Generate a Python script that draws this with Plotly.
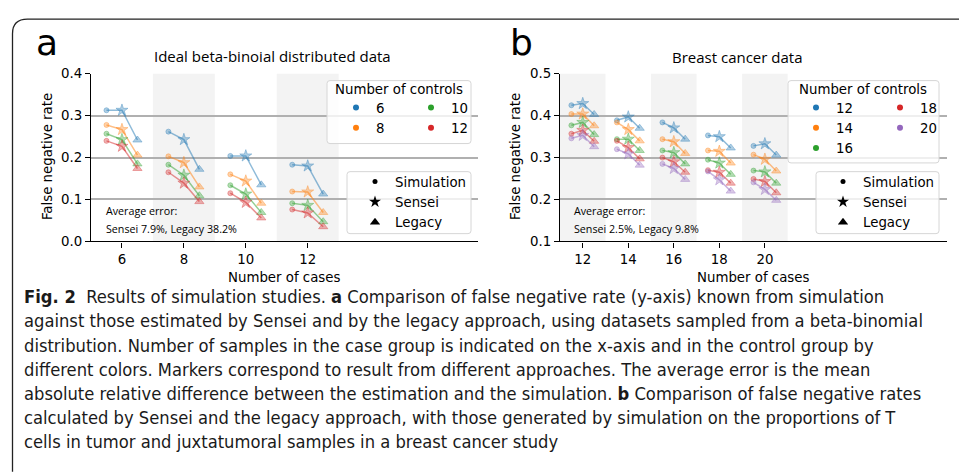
import plotly.graph_objects as go

# ---------------- data ----------------
a_cases = [6, 8, 10, 12]
a_controls = [6, 8, 10, 12]
# rows: number of controls, columns: number of cases
a_sim = [
    [0.313, 0.262, 0.204, 0.183],
    [0.278, 0.203, 0.160, 0.119],
    [0.257, 0.183, 0.134, 0.091],
    [0.240, 0.165, 0.115, 0.076],
]
a_sensei = [
    [0.313, 0.243, 0.204, 0.180],
    [0.267, 0.188, 0.144, 0.118],
    [0.243, 0.158, 0.113, 0.086],
    [0.227, 0.139, 0.093, 0.068],
]
a_legacy = [
    [0.242, 0.172, 0.135, 0.113],
    [0.206, 0.130, 0.091, 0.069],
    [0.185, 0.109, 0.069, 0.047],
    [0.174, 0.095, 0.056, 0.035],
]

b_cases = [12, 14, 16, 18, 20]
b_controls = [12, 14, 16, 18, 20]
b_sim = [
    [0.425, 0.389, 0.384, 0.353, 0.328],
    [0.404, 0.384, 0.344, 0.317, 0.307],
    [0.377, 0.344, 0.317, 0.295, 0.269],
    [0.357, 0.340, 0.300, 0.270, 0.249],
    [0.346, 0.320, 0.285, 0.267, 0.241],
]
b_sensei = [
    [0.429, 0.397, 0.371, 0.350, 0.333],
    [0.404, 0.367, 0.338, 0.315, 0.296],
    [0.384, 0.344, 0.312, 0.287, 0.266],
    [0.365, 0.324, 0.290, 0.265, 0.243],
    [0.353, 0.309, 0.274, 0.247, 0.224],
]
b_legacy = [
    [0.403, 0.370, 0.344, 0.323, 0.306],
    [0.376, 0.340, 0.310, 0.287, 0.268],
    [0.355, 0.317, 0.285, 0.260, 0.239],
    [0.339, 0.297, 0.265, 0.239, 0.216],
    [0.326, 0.282, 0.248, 0.220, 0.198],
]

methods = ["Simulation", "Sensei", "Legacy"]
method_offset = [-0.5, 0.0, 0.5]
method_symbol = ["circle", "star", "triangle-up"]
method_size = [5, 9, 8]
colors = ["#1f77b4", "#ff7f0e", "#2ca02c", "#d62728", "#9467bd"]

caption_lines = [
    "<b>Fig. 2</b>\u00a0 Results of simulation studies. <b>a</b> Comparison of false negative rate (y-axis) known from simulation",
    "against those estimated by Sensei and by the legacy approach, using datasets sampled from a beta-binomial",
    "distribution. Number of samples in the case group is indicated on the x-axis and in the control group by",
    "different colors. Markers correspond to result from different approaches. The average error is the mean",
    "absolute relative difference between the estimation and the simulation. <b>b</b> Comparison of false negative rates",
    "calculated by Sensei and the legacy approach, with those generated by simulation on the proportions of T",
    "cells in tumor and juxtatumoral samples in a breast cancer study",
]

W, H = 959, 476


def px(x):
    return x / W


def py(y):
    return 1 - y / H


def rgba(hexc, a):
    h = hexc.lstrip("#")
    r, g, b = int(h[0:2], 16), int(h[2:4], 16), int(h[4:6], 16)
    return f"rgba({r},{g},{b},{a})"


def rounded_rect(x0, y0, x1, y1, r=3):
    rx, ry = r / W, r / H
    X0, X1 = px(x0), px(x1)
    Y0, Y1 = py(y0), py(y1)  # Y0 top, Y1 bottom
    return (f"M {X0+rx},{Y0} L {X1-rx},{Y0} Q {X1},{Y0} {X1},{Y0-ry} "
            f"L {X1},{Y1+ry} Q {X1},{Y1} {X1-rx},{Y1} L {X0+rx},{Y1} "
            f"Q {X0},{Y1} {X0},{Y1+ry} L {X0},{Y0-ry} Q {X0},{Y0} {X0+rx},{Y0} Z")


fig = go.Figure()

TICKFONT = dict(family="DejaVu Sans", size=13.33, color="black")
SEGOE = "Open Sans"


def add_panel(cases, controls, sim, sensei, legacy, xa, ya, leg_cols, leg_mark, ncol_rows):
    vals = [sim, sensei, legacy]
    for ci, ctrl in enumerate(controls):
        c = colors[ci]
        xs, ys, syms, sizes = [], [], [], []
        for ki, case in enumerate(cases):
            for mi in range(3):
                xs.append(case + method_offset[mi])
                ys.append(vals[mi][ci][ki])
                syms.append(method_symbol[mi])
                sizes.append(method_size[mi])
            xs.append(None)
            ys.append(None)
            syms.append("circle")
            sizes.append(1)
        fig.add_trace(go.Scatter(
            x=xs, y=ys, xaxis=xa, yaxis=ya, mode="lines+markers",
            line=dict(color=rgba(c, 0.5), width=1.5),
            marker=dict(symbol=syms, size=sizes, color=rgba(c, 0.5),
                        line=dict(color=rgba(c, 0.55), width=1)),
            showlegend=False, hoverinfo="skip", connectgaps=False,
        ))
    # legend entries for colours (column-major, split into legend columns)
    for ci, ctrl in enumerate(controls):
        col = ci // ncol_rows
        fig.add_trace(go.Scatter(
            x=[None], y=[None], xaxis=xa, yaxis=ya, mode="markers",
            marker=dict(color=colors[ci], size=6),
            name=str(ctrl), legend=leg_cols[col], showlegend=True,
        ))
    for mi, m in enumerate(methods):
        fig.add_trace(go.Scatter(
            x=[None], y=[None], xaxis=xa, yaxis=ya, mode="markers",
            marker=dict(color="black", symbol=method_symbol[mi],
                        size=[5, 9, 9][mi]),
            name=m, legend=leg_mark, showlegend=True,
        ))


add_panel(a_cases, a_controls, a_sim, a_sensei, a_legacy, "x", "y",
          ["legend", "legend2"], "legend3", 2)
add_panel(b_cases, b_controls, b_sim, b_sensei, b_legacy, "x2", "y2",
          ["legend4", "legend5"], "legend6", 3)

shapes = []
# shaded bands behind alternating case groups
for xr, cases, start in (("x", a_cases, 1), ("x2", b_cases, 0)):
    for ki in range(start, len(cases), 2):
        shapes.append(dict(type="rect", xref=xr, yref=("y domain" if xr == "x" else "y2 domain"),
                           x0=cases[ki] - 1, x1=cases[ki] + 1, y0=0, y1=1,
                           fillcolor="#f3f3f3", line=dict(width=0), layer="below"))

# legend boxes
for (x0, y0, x1, y1) in [(327, 76, 471, 141), (347, 170, 471, 234),
                         (788, 76, 939, 161), (816, 170, 939, 234)]:
    shapes.append(dict(type="path", xref="paper", yref="paper",
                       path=rounded_rect(x0, y0, x1, y1, 3),
                       fillcolor="rgba(255,255,255,0.8)",
                       line=dict(color="#d6d6d6", width=1), layer="above"))

# outer frame with rounded top-left corner
r = 15
shapes.append(dict(type="path", xref="paper", yref="paper",
                   path=(f"M {px(12.5)},{py(480)} L {px(12.5)},{py(12.5 + r)} "
                         f"Q {px(12.5)},{py(12.5)} {px(12.5 + r)},{py(12.5)} L {px(965)},{py(12.5)}"),
                   line=dict(color="#222222", width=1.3)))

ann = []


def text(x, y, s, size, family, xanchor="center", yanchor="middle", angle=0, color="black"):
    ann.append(dict(x=px(x), y=py(y), xref="paper", yref="paper", text=s, showarrow=False,
                    xanchor=xanchor, yanchor=yanchor, textangle=angle,
                    font=dict(family=family, size=size, color=color)))


text(47, 37, "a", 36, "DejaVu Sans")
text(521, 37, "b", 36, "DejaVu Sans")
text(272, 51, "Ideal beta-binoial distributed data", 15, SEGOE)
text(737, 52, "Breast cancer data", 15, SEGOE)
text(47, 155, "False negative rate", 13.33, "DejaVu Sans", angle=-90)
text(515, 155, "False negative rate", 13.33, "DejaVu Sans", angle=-90)
text(284, 279, "Number of cases", 13.33, "DejaVu Sans")
text(753, 279, "Number of cases", 13.33, "DejaVu Sans")
text(104, 211, "Average error:", 10.7, SEGOE, xanchor="left")
text(104, 229, "Sensei 7.9%, Legacy 38.2%", 10.7, SEGOE, xanchor="left")
text(572, 211, "Average error:", 10.7, SEGOE, xanchor="left")
text(572, 229, "Sensei 2.5%, Legacy 9.8%", 10.7, SEGOE, xanchor="left")
text(399, 85, "Number of controls", 13.33, "DejaVu Sans")
text(863, 85, "Number of controls", 13.33, "DejaVu Sans")

for i, line in enumerate(caption_lines):
    text(22, 299 + 25 * i, line, 18.2, "DejaVu Sans Condensed, sans-serif",
         xanchor="left", color="#1a1a1a")


def leg(x, y):
    return dict(x=px(x), y=py(y), xanchor="left", yanchor="top", bgcolor="rgba(0,0,0,0)",
                borderwidth=0, font=dict(family="DejaVu Sans", size=13.33, color="black"),
                itemwidth=30, itemsizing="trace", tracegroupgap=0)


axis_common = dict(showline=True, linecolor="black", linewidth=1.3, ticks="outside",
                   ticklen=5, tickwidth=1.2, tickcolor="black", zeroline=False,
                   tickfont=TICKFONT)

fig.update_layout(
    width=W, height=H, margin=dict(l=0, r=0, t=0, b=0),
    paper_bgcolor="white", plot_bgcolor="white",
    showlegend=True,
    xaxis=dict(domain=[px(91), px(478)], range=[5, 17.5], tickvals=a_cases,
               showgrid=False, anchor="y", **axis_common),
    yaxis=dict(domain=[py(242), py(69)], range=[0, 0.4], dtick=0.1, tickformat=".1f",
               showgrid=True, gridcolor="#b0b0b0", gridwidth=1.5, anchor="x", **axis_common),
    xaxis2=dict(domain=[px(560), px(947)], range=[11, 28], tickvals=b_cases,
                showgrid=False, anchor="y2", **axis_common),
    yaxis2=dict(domain=[py(242), py(69)], range=[0.1, 0.5], dtick=0.1, tickformat=".1f",
                showgrid=True, gridcolor="#b0b0b0", gridwidth=1.5, anchor="x2", **axis_common),
    legend=leg(336, 88),
    legend2=leg(411, 88),
    legend3=leg(355, 164.5),
    legend4=leg(796, 88),
    legend5=leg(880, 88),
    legend6=leg(823, 164.5),
    shapes=shapes,
    annotations=ann,
)

fig.write_html("out.html", config={"displayModeBar": False},
               post_script="document.body.style.margin='0';document.body.style.overflow='hidden';")
